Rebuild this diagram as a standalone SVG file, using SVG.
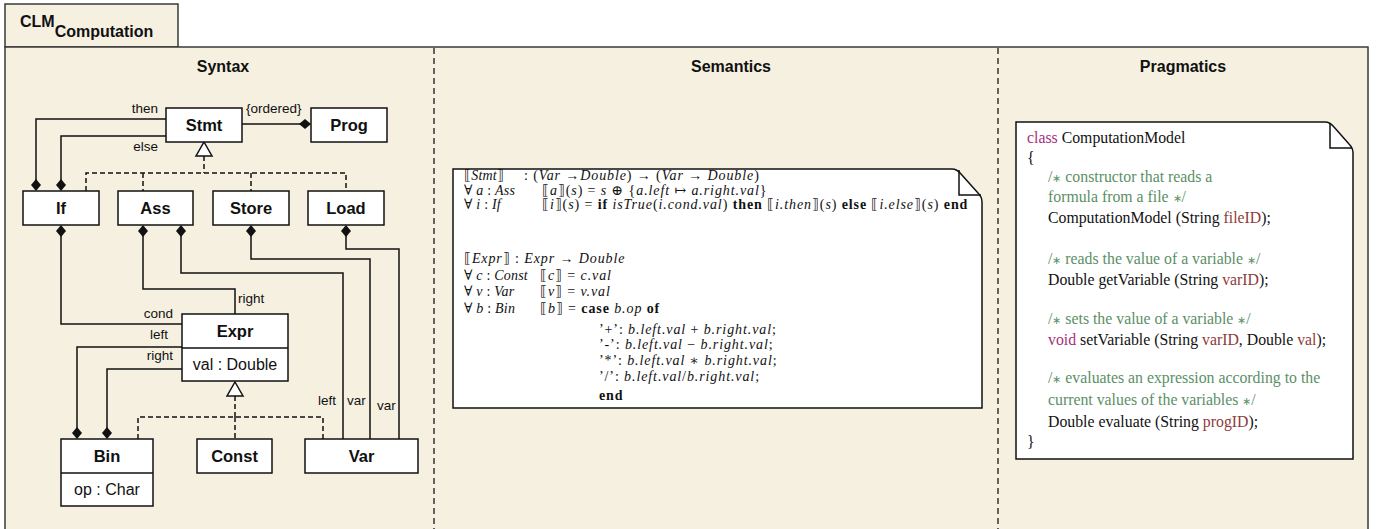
<svg xmlns="http://www.w3.org/2000/svg" width="1379" height="529" viewBox="0 0 1379 529">
<style>
.frame{fill:#F6F0E1;stroke:#3a3a3a;stroke-width:1.5}
.div{stroke:#333;stroke-width:1.5;stroke-dasharray:6 4;fill:none}
.title{font-family:"Liberation Sans",Arial,sans-serif;font-weight:bold;font-size:16px;fill:#111;text-anchor:middle}
.node{fill:#fff;stroke:#111;stroke-width:1.5}
.nm{font-family:"Liberation Sans",Arial,sans-serif;font-weight:bold;font-size:16.5px;fill:#111;text-anchor:middle}
.at{font-family:"Liberation Sans",Arial,sans-serif;font-size:16px;fill:#111;text-anchor:middle}
.lbl{font-family:"Liberation Sans",Arial,sans-serif;font-size:13.5px;fill:#111}
.e{text-anchor:end}
.ln{fill:none;stroke:#111;stroke-width:1.5}
.dash{fill:none;stroke:#111;stroke-width:1.5;stroke-dasharray:5 3}
.tri{fill:#fff;stroke:#111;stroke-width:1.5}
.note{fill:#fff;stroke:#111;stroke-width:1.5}
.m{font-family:"Liberation Serif","DejaVu Serif",serif;font-size:14px;letter-spacing:0.9px;fill:#111}
.k{letter-spacing:0.2px}
.i{font-style:italic}
.b{font-weight:bold}
.c{font-family:"Liberation Serif","Times New Roman",serif;font-size:15.8px;fill:#111}
.s{font-size:11px}
.kw{fill:#A3307A}
.cm{fill:#5B8F66}
.pa{fill:#8E3B3B}
</style>
<defs>
<path id="dia" d="M0,0 L5,6 L0,12 L-5,6 Z" fill="#111"/>
</defs>
<rect width="1379" height="529" fill="#fff"/>
<g id="frame">
<rect class="frame" x="5" y="4" width="173" height="43"/>
<rect class="frame" x="5" y="47" width="1363" height="500"/>
<text x="20" y="27" font-family="Liberation Sans,Arial,sans-serif" font-weight="bold" font-size="16" fill="#111">CLM<tspan dy="10">Computation</tspan></text>
<line class="div" x1="434" y1="48" x2="434" y2="529"/>
<line class="div" x1="998" y1="48" x2="998" y2="529"/>
<text class="title" x="223" y="72">Syntax</text>
<text class="title" x="731" y="72">Semantics</text>
<text class="title" x="1183" y="72">Pragmatics</text>
</g>
<g id="connectors">
<path class="ln" d="M166,119 H36 V181"/>
<use href="#dia" x="36" y="179"/>
<path class="ln" d="M166,136 H61 V181"/>
<use href="#dia" x="61" y="179"/>
<path class="ln" d="M242,124 H301"/>
<use href="#dia" transform="translate(311,124) rotate(90)"/>
<path class="tri" d="M204,142 L212,156 L196,156 Z"/>
<path class="dash" d="M204,156 V173 M86,191 V173 H346 V191 M143,173 V191 M251,173 V191"/>
<path class="ln" d="M61,235 V324 H182"/>
<use href="#dia" x="61" y="225"/>
<path class="ln" d="M143,235 V289 H235 V314"/>
<use href="#dia" x="143" y="225"/>
<path class="ln" d="M181,235 V273 H343 V439"/>
<use href="#dia" x="181" y="225"/>
<path class="ln" d="M251,235 V259 H370 V439"/>
<use href="#dia" x="251" y="225"/>
<path class="ln" d="M346,235 V249 H399 V439"/>
<use href="#dia" x="346" y="225"/>
<path class="ln" d="M182,347 H77 V429"/>
<use href="#dia" x="77" y="427"/>
<path class="ln" d="M182,369 H107 V429"/>
<use href="#dia" x="107" y="427"/>
<path class="tri" d="M235,382 L243,396 L227,396 Z"/>
<path class="dash" d="M235,396 V417 M138,439 V417 H323 V439 M235,417 V439"/>
<text class="lbl e" x="158" y="113">then</text>
<text class="lbl e" x="158" y="151">else</text>
<text class="lbl" x="246" y="113">{ordered}</text>
<text class="lbl" x="238" y="303">right</text>
<text class="lbl e" x="173" y="318">cond</text>
<text class="lbl e" x="168" y="339">left</text>
<text class="lbl e" x="173" y="360">right</text>
<text class="lbl e" x="336" y="405">left</text>
<text class="lbl" x="347" y="405">var</text>
<text class="lbl" x="377" y="410">var</text>
</g>
<g id="Stmt"><rect class="node" x="166" y="108" width="76" height="34"/><text class="nm" x="204" y="131">Stmt</text></g>
<g id="Prog"><rect class="node" x="311" y="108" width="76" height="34"/><text class="nm" x="349" y="131">Prog</text></g>
<g id="If"><rect class="node" x="23" y="191" width="76" height="34"/><text class="nm" x="61" y="214">If</text></g>
<g id="Ass"><rect class="node" x="118" y="191" width="75" height="34"/><text class="nm" x="155.5" y="214">Ass</text></g>
<g id="Store"><rect class="node" x="213" y="191" width="76" height="34"/><text class="nm" x="251" y="214">Store</text></g>
<g id="Load"><rect class="node" x="308" y="191" width="76" height="34"/><text class="nm" x="346" y="214">Load</text></g>
<g id="Expr"><rect class="node" x="182" y="314" width="106" height="67"/><line class="ln" x1="182" y1="348" x2="288" y2="348"/><text class="nm" x="235" y="337">Expr</text><text class="at" x="235" y="370">val : Double</text></g>
<g id="Bin"><rect class="node" x="61" y="439" width="92" height="67"/><line class="ln" x1="61" y1="473" x2="153" y2="473"/><text class="nm" x="107" y="462">Bin</text><text class="at" x="107" y="495">op : Char</text></g>
<g id="Const"><rect class="node" x="197" y="439" width="75" height="34"/><text class="nm" x="234.5" y="462">Const</text></g>
<g id="Var"><rect class="node" x="305" y="439" width="113" height="34"/><text class="nm" x="361.5" y="462">Var</text></g>
<g id="semantics">
<path class="note" d="M453,169 H952 Q957,169 961,174 L978,193 Q982,197 982,202 V408 H453 Z"/>
<path class="ln" d="M959,170 V195 H981"/>
<text class="m k" x="464" y="180">⟦<tspan class="i">Stmt</tspan>⟧</text>
<text class="m" x="524" y="180">: (<tspan class="i">Var</tspan> →<tspan class="i">Double</tspan>) → (<tspan class="i">Var</tspan> → <tspan class="i">Double</tspan>)</text>
<text class="m k" x="464" y="195">∀ <tspan class="i">a</tspan> : <tspan class="i">Ass</tspan></text>
<text class="m" x="542" y="195">⟦<tspan class="i">a</tspan>⟧(<tspan class="i">s</tspan>) = <tspan class="i">s</tspan> ⊕ {<tspan class="i">a.left</tspan> ↦ <tspan class="i">a.right.val</tspan>}</text>
<text class="m k" x="464" y="209">∀ <tspan class="i">i</tspan> : <tspan class="i">If</tspan></text>
<text class="m" x="542" y="209">⟦<tspan class="i">i</tspan>⟧(<tspan class="i">s</tspan>) = <tspan class="b">if</tspan> <tspan class="i">isTrue</tspan>(<tspan class="i">i.cond.val</tspan>) <tspan class="b">then</tspan> ⟦<tspan class="i">i.then</tspan>⟧(<tspan class="i">s</tspan>) <tspan class="b">else</tspan> ⟦<tspan class="i">i.else</tspan>⟧(<tspan class="i">s</tspan>) <tspan class="b">end</tspan></text>
<text class="m" x="464" y="263">⟦<tspan class="i">Expr</tspan>⟧ : <tspan class="i">Expr</tspan> → <tspan class="i">Double</tspan></text>
<text class="m k" x="464" y="280">∀ <tspan class="i">c</tspan> : <tspan class="i">Const</tspan></text>
<text class="m" x="540" y="280">⟦<tspan class="i">c</tspan>⟧ = <tspan class="i">c.val</tspan></text>
<text class="m k" x="464" y="296">∀ <tspan class="i">v</tspan> : <tspan class="i">Var</tspan></text>
<text class="m" x="540" y="296">⟦<tspan class="i">v</tspan>⟧ = <tspan class="i">v.val</tspan></text>
<text class="m k" x="464" y="313">∀ <tspan class="i">b</tspan> : <tspan class="i">Bin</tspan></text>
<text class="m" x="540" y="313">⟦<tspan class="i">b</tspan>⟧ = <tspan class="b">case</tspan> <tspan class="i">b.op</tspan> <tspan class="b">of</tspan></text>
<text class="m" x="599" y="334">’+’: <tspan class="i">b.left.val</tspan> + <tspan class="i">b.right.val</tspan>;</text>
<text class="m" x="599" y="349">’-’: <tspan class="i">b.left.val</tspan> − <tspan class="i">b.right.val</tspan>;</text>
<text class="m" x="599" y="365">’*’: <tspan class="i">b.left.val</tspan> ∗ <tspan class="i">b.right.val</tspan>;</text>
<text class="m" x="599" y="381">’/’: <tspan class="i">b.left.val</tspan>/<tspan class="i">b.right.val</tspan>;</text>
<text class="m b" x="599" y="400">end</text>
</g>
<g id="pragmatics">
<path class="note" d="M1016,122 H1325 Q1330,122 1334,127 L1349,144 Q1353,148 1353,153 V459 H1016 Z"/>
<path class="ln" d="M1330,123 V148 H1352"/>
<text class="c" x="1027" y="143"><tspan class="kw">class</tspan> ComputationModel</text>
<text class="c" x="1027" y="163">{</text>
<text class="c cm" x="1048" y="182">/<tspan class="s">∗</tspan> constructor that reads a</text>
<text class="c cm" x="1048" y="202">formula from a file <tspan class="s">∗</tspan>/</text>
<text class="c" x="1048" y="223">ComputationModel (String <tspan class="pa">fileID</tspan>);</text>
<text class="c cm" x="1048" y="264">/<tspan class="s">∗</tspan> reads the value of a variable <tspan class="s">∗</tspan>/</text>
<text class="c" x="1048" y="285">Double getVariable (String <tspan class="pa">varID</tspan>);</text>
<text class="c cm" x="1048" y="324">/<tspan class="s">∗</tspan> sets the value of a variable <tspan class="s">∗</tspan>/</text>
<text class="c" x="1048" y="345"><tspan class="kw">void</tspan> setVariable (String <tspan class="pa">varID</tspan>, Double <tspan class="pa">val</tspan>);</text>
<text class="c cm" x="1048" y="383">/<tspan class="s">∗</tspan> evaluates an expression according to the</text>
<text class="c cm" x="1048" y="405">current values of the variables <tspan class="s">∗</tspan>/</text>
<text class="c" x="1048" y="427">Double evaluate (String <tspan class="pa">progID</tspan>);</text>
<text class="c" x="1027" y="447">}</text>
</g>
</svg>
